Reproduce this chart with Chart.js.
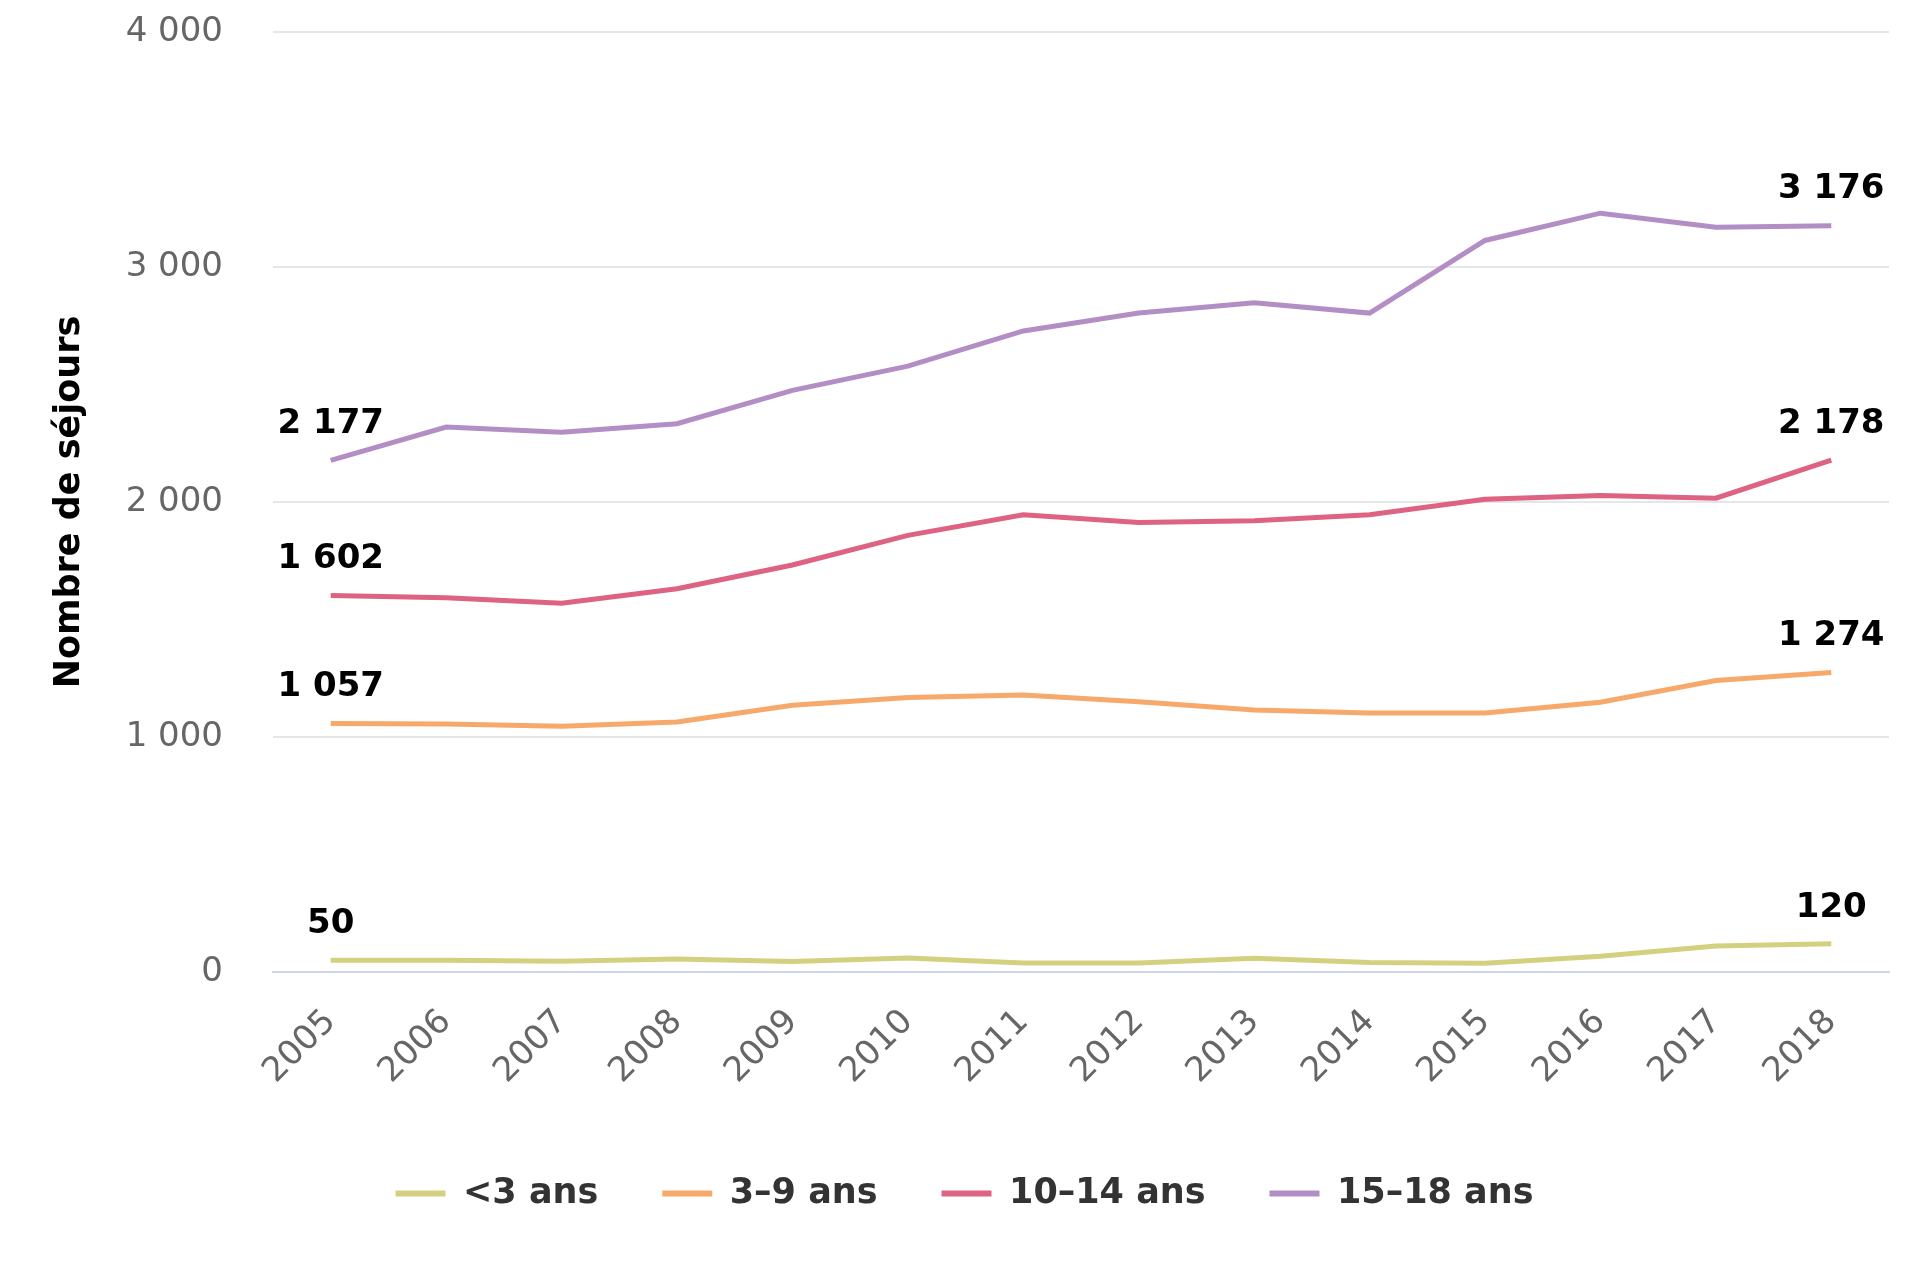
<!DOCTYPE html>
<html lang="fr">
<head>
<meta charset="utf-8">
<title>Nombre de séjours par âge</title>
<script src="https://cdn.jsdelivr.net/npm/chart.js@4"></script>
<style>
    html, body { margin: 0; padding: 0; background: #ffffff; }
    #wrap { width: 1920px; height: 1280px; }
</style>
</head>
<body>
<div id="wrap"><canvas id="sejoursChart"></canvas></div>
<script>
// Données
const annees = ["2005", "2006", "2007", "2008", "2009", "2010", "2011", "2012", "2013", "2014", "2015", "2016", "2017", "2018"];
const moins3 = [50, 50, 46, 55, 45, 60, 38, 38, 58, 40, 37, 67, 111, 120];
const de3a9 = [1057, 1055, 1046, 1064, 1135, 1168, 1179, 1150, 1115, 1102, 1102, 1148, 1240, 1274];
const de10a14 = [1602, 1593, 1569, 1631, 1732, 1858, 1946, 1913, 1920, 1946, 2012, 2028, 2016, 2178];
const de15a18 = [2177, 2319, 2297, 2333, 2475, 2578, 2728, 2804, 2848, 2804, 3113, 3229, 3169, 3176];
const yTicks = [0, 1000, 2000, 3000, 4000];

const police = "'DejaVu Sans', Verdana, sans-serif";

// Format français : espace comme séparateur de milliers
function formatNombre(v) {
    return String(v).replace(/\B(?=(\d{3})+(?!\d))/g, " ");
}

// Étiquettes sur le premier et le dernier point de chaque courbe
const etiquettesExtremes = {
    id: "etiquettesExtremes",
    afterDatasetsDraw(chart) {
        const ctx = chart.ctx;
        ctx.save();
        ctx.font = "bold 34px " + police;
        ctx.fillStyle = "#000000";
        ctx.textAlign = "center";
        ctx.textBaseline = "middle";
        chart.data.datasets.forEach((ds, i) => {
            const meta = chart.getDatasetMeta(i);
            if (meta.hidden) return;
            [0, meta.data.length - 1].forEach(idx => {
                const pt = meta.data[idx];
                ctx.fillText(formatNombre(ds.data[idx]), pt.x, pt.y - 36);
            });
        });
        ctx.restore();
    }
};

function serie(label, data, couleur) {
    return {
        label: label,
        data: data,
        borderColor: couleur,
        backgroundColor: couleur,
        borderWidth: 5,
        pointRadius: 0,
        pointHoverRadius: 0,
        tension: 0,
        fill: false
    };
}

const ctx = document.getElementById("sejoursChart").getContext("2d");
const chart = new Chart(ctx, {
    type: "line",
    data: {
        labels: annees,
        datasets: [
            serie("<3 ans", moins3, "#d3d17f"),
            serie("3–9 ans", de3a9, "#f7a96b"),
            serie("10–14 ans", de10a14, "#de6282"),
            serie("15–18 ans", de15a18, "#b38ec5")
        ]
    },
    options: {
        responsive: true,
        maintainAspectRatio: false,
        animation: false,
        layout: { padding: { top: 32, right: 31, bottom: 59, left: 40 } },
        scales: {
            x: {
                offset: true,
                grid: { display: false, drawTicks: false },
                border: { display: true, color: "#ccd6eb", width: 2 },
                ticks: {
                    color: "#666666",
                    font: { family: police, size: 34 },
                    maxRotation: 45,
                    minRotation: 45,
                    padding: 30,
                    autoSkip: false
                },
                afterFit: scale => { scale.height = 140; }
            },
            y: {
                min: 0,
                max: 4000,
                afterBuildTicks: scale => { scale.ticks = yTicks.map(v => ({ value: v })); },
                grid: {
                    drawTicks: false,
                    lineWidth: 2,
                    color: c => c.tick && c.tick.value === 0 ? "#ccd6eb" : "#e6e6e6"
                },
                border: { display: false },
                ticks: {
                    color: "#666666",
                    font: { family: police, size: 34 },
                    padding: 50,
                    callback: v => formatNombre(v)
                },
                title: {
                    display: true,
                    text: "Nombre de séjours",
                    color: "#000000",
                    font: { family: police, size: 35, weight: "bold" },
                    padding: { top: 9, bottom: 0 }
                },
                afterFit: scale => {
                    scale.width = 233;
                    // le padding des graduations ne doit pas décaler la zone de tracé
                    scale.paddingTop = 0;
                    scale.paddingBottom = 0;
                }
            }
        },
        plugins: {
            legend: {
                position: "bottom",
                labels: {
                    color: "#333333",
                    font: { family: police, size: 35, weight: "bold" },
                    boxWidth: 50,
                    boxHeight: 6,
                    padding: 64,
                    generateLabels: c => Chart.defaults.plugins.legend.labels.generateLabels(c).map(item => {
                        item.lineWidth = 0;
                        return item;
                    })
                }
            },
            tooltip: { enabled: false }
        }
    },
    plugins: [etiquettesExtremes]
});
</script>
</body>
</html>
